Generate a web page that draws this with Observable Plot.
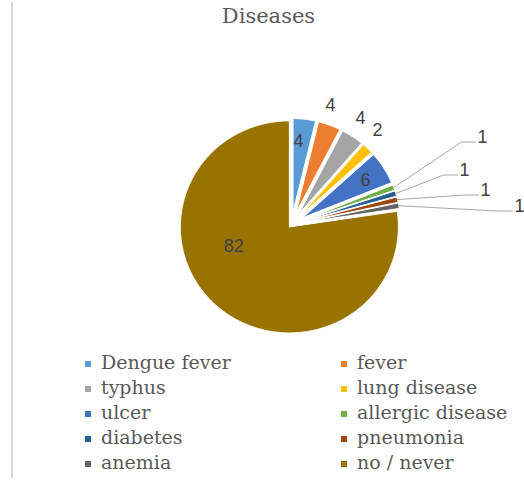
<!DOCTYPE html>
<html>
<head>
<meta charset="utf-8">
<script src="https://cdn.jsdelivr.net/npm/d3@7"></script>
<script src="https://cdn.jsdelivr.net/npm/@observablehq/plot@0.6"></script>
<style>
  html, body { margin: 0; padding: 0; background: #fff; }
  #wrap { position: relative; width: 524px; height: 481px; overflow: hidden; background: #fff; }
  #border { position: absolute; left: 11px; top: 2px; width: 2px; height: 476px; background: #d9d9d9; }
  #title { position: absolute; top: 4px; left: 0; width: 537px; text-align: center;
           font-family: "DejaVu Serif", "Liberation Serif", serif; font-size: 21px; color: #595959; }
  #chart { position: absolute; left: 0; top: 0; }
  #legend { position: absolute; left: 0; top: 350px; width: 524px;
            font-family: "DejaVu Serif", "Liberation Serif", serif; font-size: 19px; color: #595959; }
  .item { position: absolute; height: 25px; line-height: 25px; white-space: nowrap; }
  .sw { position: absolute; left: 0; top: 11px; width: 6px; height: 6px; }
  .lb { position: absolute; left: 16px; top: 0; }
</style>
</head>
<body>
<div id="wrap">
  <div id="border"></div>
  <div id="chart"></div>
  <div id="title">Diseases</div>
  <div id="legend"></div>
</div>
<script>
// ---- data ----
const categories = ["Dengue fever", "fever", "typhus", "lung disease", "ulcer",
                    "allergic disease", "diabetes", "pneumonia", "anemia", "no / never"];
const values = [4, 4, 4, 2, 6, 1, 1, 1, 1, 82];
const colors = ["#5B9BD5", "#ED7D31", "#A5A5A5", "#FFC000", "#4472C4",
                "#70AD47", "#255E91", "#9E480E", "#636363", "#997300"];

// ---- layout (not data) ----
const explodeBy   = categories.map(c => c === "no / never" ? 0.03 : 0.12);
const sliceRadius = categories.map(c => c === "no / never" ? 1 : 0.88);
const labelMode   = ["inside", "outside", "outside", "outside", "inside",
                     "callout", "callout", "callout", "callout", "inside"];
const labelRadius = [0.67, 1.06, 1.063, 1.067, 0.676, 0, 0, 0, 0, 0.541];
const labelShiftDeg = [-2.5, -3, -1.8, -2.8, 1, 0, 0, 0, 0, 30];
// callout label centres, in pie-radius units relative to pie centre
const calloutPos = {
  "allergic disease": [1.752, 0.825],
  "diabetes": [1.587, 0.514],
  "pneumonia": [1.780, 0.325],
  "anemia": [2.092, 0.174]
};
const RX = 109, RY = 106; // px per radius unit

const arcs = d3.pie().sort(null).value(d => d)(values);
const deg = Math.PI / 180;

const slicePts = [];
const leaderPts = [];
const labels = [];
arcs.forEach((a, i) => {
  const name = categories[i];
  const mid = (a.startAngle + a.endAngle) / 2;
  const ox = explodeBy[i] * Math.sin(mid), oy = explodeBy[i] * Math.cos(mid);
  const r = sliceRadius[i];
  slicePts.push({name, x: ox, y: oy});
  const n = Math.max(2, Math.ceil((a.endAngle - a.startAngle) / (0.5 * deg)));
  for (let k = 0; k <= n; k++) {
    const t = a.startAngle + (a.endAngle - a.startAngle) * k / n;
    slicePts.push({name, x: ox + r * Math.sin(t), y: oy + r * Math.cos(t)});
  }
  slicePts.push({name, x: ox, y: oy});

  const mode = labelMode[i];
  if (mode === "callout") {
    const [lx, ly] = calloutPos[name];
    const ex = lx - 7 / RX, ey = ly - 5 / RY;
    leaderPts.push({name, x: ox + r * Math.sin(mid), y: oy + r * Math.cos(mid)});
    leaderPts.push({name, x: ex - 14 / RX, y: ey});
    leaderPts.push({name, x: ex, y: ey});
    labels.push({x: lx, y: ly, text: String(values[i])});
  } else {
    const t = mid + labelShiftDeg[i] * deg;
    labels.push({x: ox + labelRadius[i] * Math.sin(t), y: oy + labelRadius[i] * Math.cos(t), text: String(values[i])});
  }
});

const chart = Plot.plot({
  width: 524,
  height: 345,
  margin: 0,
  style: {background: "transparent", fontFamily: "'Liberation Sans', Arial, sans-serif", overflow: "visible"},
  x: {domain: [-1, 1], range: [291 - RX, 291 + RX], axis: null},
  y: {domain: [-1, 1], range: [224 + RY, 224 - RY], axis: null},
  color: {domain: categories, range: colors},
  marks: [
    Plot.line(slicePts, {x: "x", y: "y", z: "name", fill: "name", stroke: "white", strokeWidth: 1, curve: "linear"}),
    Plot.line(leaderPts, {x: "x", y: "y", z: "name", stroke: "#a6a6a6", strokeWidth: 1, curve: "linear"}),
    Plot.text(labels, {x: "x", y: "y", text: "text", fontSize: 18, fill: "#404040"})
  ]
});
document.getElementById("chart").appendChild(chart);

// legend
const legend = document.getElementById("legend");
categories.forEach((c, i) => {
  const col = i % 2, row = Math.floor(i / 2);
  const item = document.createElement("div");
  item.className = "item";
  item.style.left = (col === 0 ? 85 : 341) + "px";
  item.style.top = (row * 25) + "px";
  const sw = document.createElement("span");
  sw.className = "sw";
  sw.style.background = colors[i];
  const lb = document.createElement("span");
  lb.className = "lb";
  lb.textContent = c;
  item.appendChild(sw);
  item.appendChild(lb);
  legend.appendChild(item);
});
</script>
</body>
</html>
